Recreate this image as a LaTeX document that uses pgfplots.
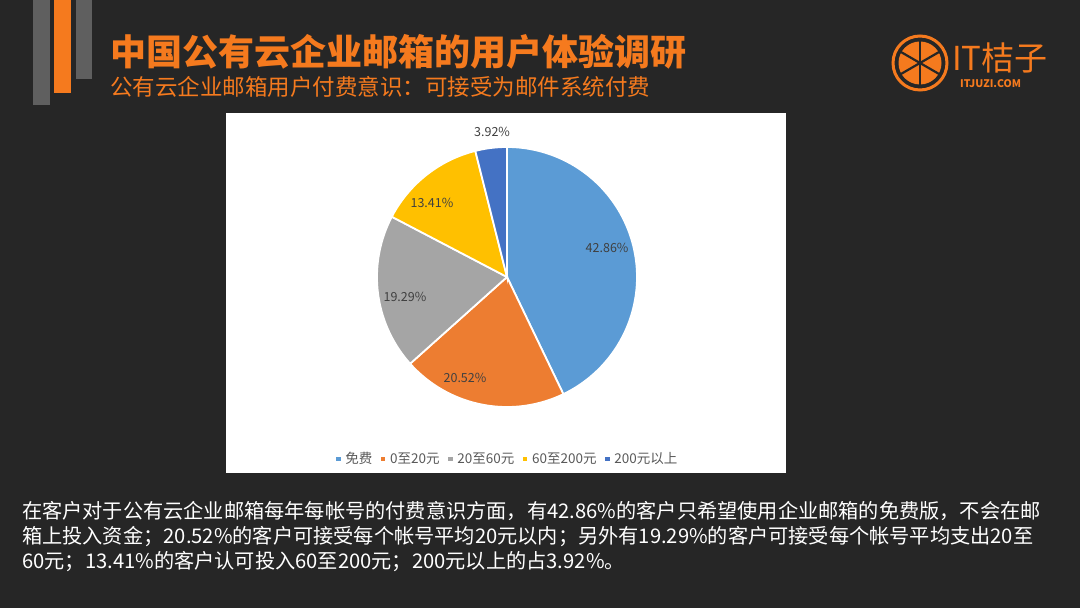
\documentclass[border=0pt]{standalone}
\usepackage{fontspec}
\setmainfont{Noto Sans CJK SC}
\usepackage{pgfplots}
\pgfplotsset{compat=1.18}
\definecolor{bg}{HTML}{262626}
\definecolor{barg}{HTML}{5F5F5F}
\definecolor{orng}{HTML}{F57A1E}
\definecolor{sA}{HTML}{5B9BD5}
\definecolor{sB}{HTML}{ED7D31}
\definecolor{sC}{HTML}{A5A5A5}
\definecolor{sD}{HTML}{FFC000}
\definecolor{sE}{HTML}{4472C4}
\definecolor{lbl}{HTML}{404040}
\definecolor{leg}{HTML}{595959}
% shares (percent)
\def\vA{42.86}\def\vB{20.52}\def\vC{19.29}\def\vD{13.41}\def\vE{3.92}
\begin{document}
\begin{tikzpicture}[x=1pt,y=1pt]
\pgfmathsetmacro{\tA}{90}
\pgfmathsetmacro{\tB}{\tA-3.6*\vA}
\pgfmathsetmacro{\tC}{\tB-3.6*\vB}
\pgfmathsetmacro{\tD}{\tC-3.6*\vC}
\pgfmathsetmacro{\tE}{\tD-3.6*\vD}
\pgfmathsetmacro{\tF}{\tE-3.6*\vE}
% background
\fill[bg] (0,0) rectangle (1080,608);
% decorative bars
\fill[barg] (33,608) rectangle (50,503);
\fill[orng] (54,608) rectangle (71,515);
\fill[barg] (76,608) rectangle (92,529);
% titles
\node[anchor=west, inner sep=0, text=orng, font=\fontsize{36}{36}\selectfont\bfseries] at (110,556) {中国公有云企业邮箱的用户体验调研};
\node[anchor=west, inner sep=0, text=orng, font=\fontsize{22.5}{22.5}\selectfont] at (110,521) {公有云企业邮箱用户付费意识：可接受为邮件系统付费};
% logo
\draw[orng, line width=3] (920,545) circle (27);
\fill[orng] (920,545) circle (21.5);
\foreach \a in {90,30,-30} \draw[bg, line width=2.2] (920,545) ++(\a:22) -- ++(\a+180:44);
\node[anchor=west, inner sep=0, text=orng, font=\fontsize{33}{33}\selectfont] at (952,550.5) {IT桔子};
\node[anchor=west, inner sep=0, text=orng, font=\fontsize{10.5}{10.5}\selectfont\bfseries] at (960,524.5) {ITJUZI.COM};
% chart area
\fill[white] (226,135) rectangle (786,495);
\begin{axis}[
  x=130pt, y=130pt, anchor=origin, at={(507pt,331pt)},
  xmin=-1, xmax=1, ymin=-1, ymax=1,
  hide axis, clip=false,
  legend columns=5,
  legend image code/.code={\fill[#1] (0pt,-3pt) rectangle (6pt,3pt);},
  legend style={draw=none, fill=none, at={(0.5,-0.2)}, anchor=center,
    font=\fontsize{13.5}{13.5}\selectfont, text=leg,
    /tikz/every even column/.append style={column sep=5pt},
    /tikz/every odd column/.append style={column sep=1pt}},
]
\addplot[fill=sA, draw=white, line width=1.8pt, domain=\tB:\tA, samples=90] ({cos(x)},{sin(x)}) -- (axis cs:0,0) -- cycle;
\addlegendentry{免费}
\addplot[fill=sB, draw=white, line width=1.8pt, domain=\tC:\tB, samples=60] ({cos(x)},{sin(x)}) -- (axis cs:0,0) -- cycle;
\addlegendentry{0至20元}
\addplot[fill=sC, draw=white, line width=1.8pt, domain=\tD:\tC, samples=60] ({cos(x)},{sin(x)}) -- (axis cs:0,0) -- cycle;
\addlegendentry{20至60元}
\addplot[fill=sD, draw=white, line width=1.8pt, domain=\tE:\tD, samples=50] ({cos(x)},{sin(x)}) -- (axis cs:0,0) -- cycle;
\addlegendentry{60至200元}
\addplot[fill=sE, draw=white, line width=1.8pt, domain=\tF:\tE, samples=20] ({cos(x)},{sin(x)}) -- (axis cs:0,0) -- cycle;
\addlegendentry{200元以上}
\node[text=lbl, font=\fontsize{12.5}{12.5}\selectfont] at (axis cs:0.77,0.223) {42.86\%};
\node[text=lbl, font=\fontsize{12.5}{12.5}\selectfont] at (axis cs:-0.323,-0.777) {20.52\%};
\node[text=lbl, font=\fontsize{12.5}{12.5}\selectfont] at (axis cs:-0.785,-0.154) {19.29\%};
\node[text=lbl, font=\fontsize{12.5}{12.5}\selectfont] at (axis cs:-0.577,0.569) {13.41\%};
\node[text=lbl, font=\fontsize{12.5}{12.5}\selectfont] at (axis cs:-0.115,1.115) {3.92\%};
\end{axis}
% paragraph
\node[anchor=west, inner sep=0, text=white, font=\fontsize{20.2}{20.2}\selectfont] at (22,97) {在客户对于公有云企业邮箱每年每帐号的付费意识方面，有42.86\%的客户只希望使用企业邮箱的免费版，不会在邮};
\node[anchor=west, inner sep=0, text=white, font=\fontsize{20.2}{20.2}\selectfont] at (22,71) {箱上投入资金；20.52\%的客户可接受每个帐号平均20元以内；另外有19.29\%的客户可接受每个帐号平均支出20至};
\node[anchor=west, inner sep=0, text=white, font=\fontsize{20.2}{20.2}\selectfont] at (22,46) {60元；13.41\%的客户认可投入60至200元；200元以上的占3.92\%。};
\end{tikzpicture}
\end{document}
